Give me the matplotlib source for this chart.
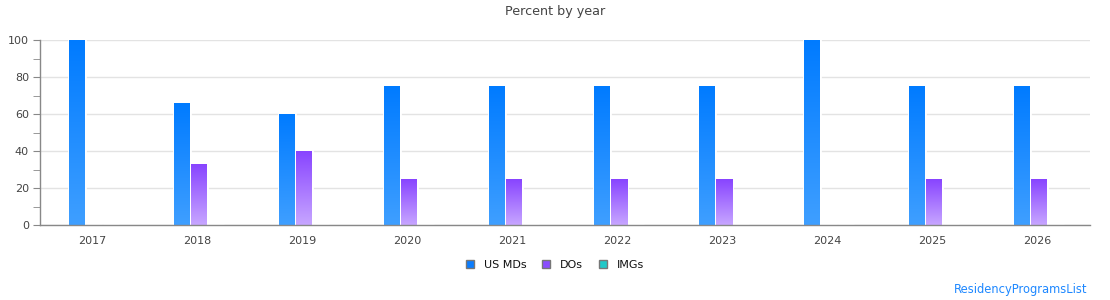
import numpy as np
import matplotlib
matplotlib.use("Agg")
import matplotlib.pyplot as plt
from matplotlib.patches import Patch
from matplotlib.colors import LinearSegmentedColormap

years = ["2017", "2018", "2019", "2020", "2021", "2022", "2023", "2024", "2025", "2026"]
us_mds = [100, 66, 60, 75, 75, 75, 75, 100, 75, 75]
dos = [0, 33, 40, 25, 25, 25, 25, 0, 25, 25]
imgs = [0, 0, 0, 0, 0, 0, 0, 0, 0, 0]
series_names = ["US MDs", "DOs", "IMGs"]

top_colors = ["#007bff", "#8844ff", "#17c3c3"]
bottom_colors = ["#3f9fff", "#c7a6ff", "#7fe0e0"]
legend_colors = ["#0a7dff", "#8a4dff", "#20c8c8"]

fig = plt.figure(figsize=(11.1, 3.0), dpi=100)
ax = fig.add_axes([40 / 1110, 75 / 300, 1050 / 1110, 185 / 300])

x = np.arange(len(years))
pitch = 17 / 105
width = 16 / 105
shift = 1.5 / 105
top_trim = 0.6 * 100 / 185  # bars end ~0.6px below their value

grad = np.linspace(0, 1, 256).reshape(-1, 1)
for k, vals in enumerate([us_mds, dos, imgs]):
    cmap = LinearSegmentedColormap.from_list("g%d" % k, [bottom_colors[k], top_colors[k]])
    offs = (k - 1) * pitch + shift
    bars = ax.bar(x + offs, vals, width=width, facecolor="none", edgecolor="white",
                  linewidth=2.0, zorder=2)
    for b, v in zip(bars, vals):
        if v <= 0:
            continue
        x0 = b.get_x()
        ax.imshow(grad, cmap=cmap, origin="lower", aspect="auto",
                  extent=(x0, x0 + width, 0, v - top_trim), zorder=3, interpolation="bilinear")

ax.set_xlim(-0.5, len(years) - 0.5)
ax.set_ylim(0, 100)
ax.set_xticks(x)
ax.set_xticklabels(years)
ax.set_yticks([0, 20, 40, 60, 80, 100])
ax.set_yticks([10, 30, 50, 70, 90], minor=True)
ax.tick_params(axis="x", length=0, pad=8, labelsize=8, labelcolor="#444444")
ax.tick_params(axis="y", which="major", length=5, color="#888888", labelsize=8, labelcolor="#444444", pad=3)
ax.tick_params(axis="y", which="minor", length=5, color="#888888")
ax.grid(axis="y", color="#e3e3e3", linewidth=1, zorder=0)
ax.set_axisbelow(True)
for s in ["top", "right"]:
    ax.spines[s].set_visible(False)
for s in ["left", "bottom"]:
    ax.spines[s].set_color("#888888")
    ax.spines[s].set_linewidth(1)
    ax.spines[s].set_zorder(4)

fig.text(0.5, 1 - 12 / 300, "Percent by year", ha="center", va="center", fontsize=9.2, color="#444444")

handles = [Patch(facecolor=c, edgecolor="#777777", linewidth=1) for c in legend_colors]
leg = fig.legend(handles, series_names, loc="center", bbox_to_anchor=(0.5, 1 - 265 / 300), ncol=3,
                 frameon=False, fontsize=8, handlelength=0.75, handleheight=0.75, handletextpad=0.9,
                 columnspacing=1.4)
for t in leg.get_texts():
    t.set_color("#111111")

fig.text(1087 / 1110, 1 - 290 / 300, "ResidencyProgramsList", ha="right", va="center",
         fontsize=8.3, color="#1e88ff")

fig.savefig("out.png", dpi=100)
